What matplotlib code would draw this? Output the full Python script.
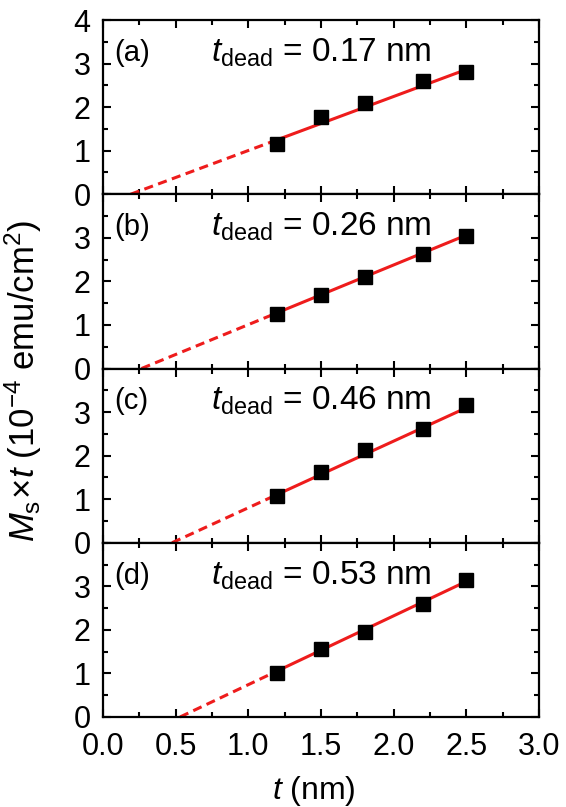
import matplotlib
matplotlib.use("Agg")
import matplotlib.pyplot as plt
from matplotlib.ticker import MultipleLocator, FixedLocator
import numpy as np

plt.rcParams['font.family'] = ['Liberation Sans', 'DejaVu Sans']
plt.rcParams['mathtext.fontset'] = 'custom'
plt.rcParams['mathtext.rm'] = 'Liberation Sans'
plt.rcParams['mathtext.it'] = 'Liberation Sans:italic'
plt.rcParams['mathtext.bf'] = 'Liberation Sans:bold'

thickness = [1.2, 1.5, 1.8, 2.2, 2.5]
panel_labels = ["(a)", "(b)", "(c)", "(d)"]
t_dead = [0.17, 0.26, 0.46, 0.53]
t_dead_fit = [0.19, 0.265, 0.475, 0.53]
slopes = [1.24, 1.37, 1.53, 1.58]
ms_t = [
    [1.16, 1.77, 2.09, 2.59, 2.80],
    [1.24, 1.69, 2.09, 2.62, 3.04],
    [1.08, 1.63, 2.13, 2.60, 3.17],
    [1.02, 1.57, 1.95, 2.60, 3.15],
]
xticks = [0.0, 0.5, 1.0, 1.5, 2.0, 2.5, 3.0]

W, H = 566, 807
fig = plt.figure(figsize=(W / 100, H / 100), dpi=100)
left, right = 103 / W, 539 / W
top, bottom = 1 - 20 / H, 1 - 717 / H
h = (top - bottom) / 4
axes = []
for i in range(4):
    ax = fig.add_axes([left, top - (i + 1) * h, right - left, h])
    axes.append(ax)

red = '#ee1c1c'
for i, ax in enumerate(axes):
    x = np.array(thickness)
    y = np.array(ms_t[i])
    td = t_dead_fit[i]
    k = slopes[i]
    xd = np.array([td, thickness[0]])
    xs = np.array([thickness[0], thickness[-1]])
    ax.plot(xd, k * (xd - td), color=red, lw=2.2, ls=(0, (3.0, 1.8)), zorder=2,
            clip_on=False)
    ax.plot(xs, k * (xs - td), color=red, lw=2.2, zorder=2)
    ax.plot(x, y, ls='none', marker='s', ms=9.5, color='black', zorder=3)
    ax.set_xlim(0, 3.0)
    ax.set_ylim(0, 4)
    ax.xaxis.set_major_locator(FixedLocator(xticks))
    ax.xaxis.set_minor_locator(MultipleLocator(0.25))
    if i == 0:
        ax.yaxis.set_major_locator(FixedLocator([0, 1, 2, 3, 4]))
    else:
        ax.yaxis.set_major_locator(FixedLocator([0, 1, 2, 3]))
    ax.yaxis.set_minor_locator(MultipleLocator(0.5))
    ax.tick_params(which='both', direction='in', top=True, right=True, width=1.5)
    ax.tick_params(which='major', length=5.8, labelsize=22)
    ax.tick_params(axis='y', which='major', pad=9)
    ax.tick_params(axis='x', which='major', pad=11)
    ax.tick_params(which='minor', length=3.6)
    for s in ax.spines.values():
        s.set_linewidth(1.6)
    if i < 3:
        ax.tick_params(labelbottom=False)
    else:
        ax.set_xticklabels([f"{v:.1f}" for v in xticks])
    ax.text(0.075, 3.06, panel_labels[i], fontsize=21, ha='left', va='baseline')
    ax.text(0.74, 3.05, r"$t_{\mathrm{dead}}$" + f" = {t_dead[i]:.2f} nm",
            fontsize=24, ha='left', va='baseline')

fig.text(314 / W, 1 - 791 / H, r"$t$ (nm)", fontsize=23, ha='center', va='center')
fig.text(23 / W, 1 - 381 / H, r"$M_{\mathrm{s}}\!\times\! t$ (10$^{-4}$ emu/cm$^{2}$)",
         rotation=90, fontsize=25, ha='center', va='center')

fig.savefig("out.png", dpi=100)
